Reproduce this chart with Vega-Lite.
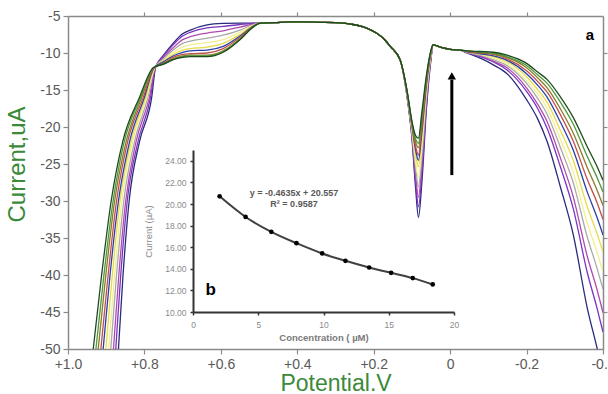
{
"$schema": "https://vega.github.io/schema/vega-lite/v6.json",
"width": 535, "height": 333,
"autosize": {"type": "none"},
"padding": {"left": 68, "top": 16, "right": 5, "bottom": 45},
"background": "white",
"config": {"view": {"stroke": null}, "font": "Liberation Sans"},
"resolve": {"scale": {"x": "independent", "y": "independent"}, "axis": {"x": "independent", "y": "independent"}},
"layer": [
{
"resolve": {"axis": {"x": "independent", "y": "independent"}},
"layer": [
{
"data": {"values": [
{"k":0,"v":0.876,"i":-56},{"k":0,"v":0.868,"i":-50},{"k":0,"v":0.856,"i":-40},{"k":0,"v":0.840,"i":-30},{"k":0,"v":0.813,"i":-22},{"k":0,"v":0.781,"i":-16},{"k":0,"v":0.771,"i":-12},
{"k":0,"v":0.75,"i":-10.3},{"k":0,"v":0.725,"i":-8.7},{"k":0,"v":0.70,"i":-7.4},{"k":0,"v":0.68,"i":-6.9},{"k":0,"v":0.636,"i":-6.2},{"k":0,"v":0.594,"i":-6.0},{"k":0,"v":0.55,"i":-5.95},{"k":0,"v":0.516,"i":-5.95},
{"k":0,"v":0.497,"i":-5.95},{"k":0,"v":0.46,"i":-5.9},{"k":0,"v":0.42,"i":-5.8},{"k":0,"v":0.38,"i":-5.8},{"k":0,"v":0.34,"i":-5.85},{"k":0,"v":0.30,"i":-5.9},{"k":0,"v":0.26,"i":-6.1},{"k":0,"v":0.22,"i":-6.6},{"k":0,"v":0.19,"i":-7.4},{"k":0,"v":0.175,"i":-8.0},{"k":0,"v":0.157,"i":-9.1},{"k":0,"v":0.131,"i":-10.9},
{"k":0,"v":0.113,"i":-15.8},{"k":0,"v":0.100,"i":-21.5},{"k":0,"v":0.090,"i":-28.5},{"k":0,"v":0.083,"i":-32.2},{"k":0,"v":0.074,"i":-27.5},{"k":0,"v":0.062,"i":-17.5},{"k":0,"v":0.050,"i":-10.8},{"k":0,"v":0.045,"i":-8.9},
{"k":0,"v":0.026,"i":-9.2},{"k":0,"v":0.0,"i":-9.5},{"k":0,"v":-0.026,"i":-9.6},
{"k":0,"v":-0.044,"i":-10.0},{"k":0,"v":-0.079,"i":-10.7},{"k":0,"v":-0.113,"i":-11.6},{"k":0,"v":-0.149,"i":-12.8},{"k":0,"v":-0.2,"i":-16.3},{"k":0,"v":-0.23,"i":-19.0},{"k":0,"v":-0.254,"i":-22.0},{"k":0,"v":-0.288,"i":-28.0},{"k":0,"v":-0.322,"i":-34.5},{"k":0,"v":-0.359,"i":-44.5},{"k":0,"v":-0.385,"i":-50.0},{"k":0,"v":-0.4,"i":-53.5},

{"k":1,"v":0.883,"i":-56},{"k":1,"v":0.875,"i":-50},{"k":1,"v":0.862,"i":-40},{"k":1,"v":0.845,"i":-30},{"k":1,"v":0.817,"i":-22},{"k":1,"v":0.784,"i":-16},{"k":1,"v":0.772,"i":-12},
{"k":1,"v":0.75,"i":-10.4},{"k":1,"v":0.725,"i":-8.9},{"k":1,"v":0.70,"i":-7.7},{"k":1,"v":0.68,"i":-7.2},{"k":1,"v":0.636,"i":-6.6},{"k":1,"v":0.594,"i":-6.4},{"k":1,"v":0.55,"i":-6.15},{"k":1,"v":0.516,"i":-6.0},
{"k":1,"v":0.497,"i":-5.95},{"k":1,"v":0.46,"i":-5.9},{"k":1,"v":0.42,"i":-5.8},{"k":1,"v":0.38,"i":-5.8},{"k":1,"v":0.34,"i":-5.85},{"k":1,"v":0.30,"i":-5.9},{"k":1,"v":0.26,"i":-6.1},{"k":1,"v":0.22,"i":-6.6},{"k":1,"v":0.19,"i":-7.4},{"k":1,"v":0.175,"i":-8.0},{"k":1,"v":0.157,"i":-9.1},{"k":1,"v":0.131,"i":-10.9},
{"k":1,"v":0.113,"i":-15.7},{"k":1,"v":0.100,"i":-21.2},{"k":1,"v":0.090,"i":-27.6},{"k":1,"v":0.083,"i":-30.8},{"k":1,"v":0.074,"i":-26.3},{"k":1,"v":0.062,"i":-16.9},{"k":1,"v":0.050,"i":-10.6},{"k":1,"v":0.045,"i":-8.9},
{"k":1,"v":0.026,"i":-9.2},{"k":1,"v":0.0,"i":-9.5},{"k":1,"v":-0.026,"i":-9.6},
{"k":1,"v":-0.044,"i":-9.9},{"k":1,"v":-0.079,"i":-10.5},{"k":1,"v":-0.113,"i":-11.2},{"k":1,"v":-0.149,"i":-12.3},{"k":1,"v":-0.2,"i":-15.2},{"k":1,"v":-0.23,"i":-17.6},{"k":1,"v":-0.254,"i":-20.2},{"k":1,"v":-0.288,"i":-25.3},{"k":1,"v":-0.322,"i":-31.0},{"k":1,"v":-0.359,"i":-39.7},{"k":1,"v":-0.385,"i":-44.6},{"k":1,"v":-0.4,"i":-47.7},

{"k":2,"v":0.890,"i":-56},{"k":2,"v":0.881,"i":-50},{"k":2,"v":0.867,"i":-40},{"k":2,"v":0.849,"i":-30},{"k":2,"v":0.822,"i":-22},{"k":2,"v":0.787,"i":-16},{"k":2,"v":0.772,"i":-12},
{"k":2,"v":0.75,"i":-10.6},{"k":2,"v":0.725,"i":-9.3},{"k":2,"v":0.70,"i":-8.2},{"k":2,"v":0.68,"i":-7.8},{"k":2,"v":0.636,"i":-7.3},{"k":2,"v":0.594,"i":-7.0},{"k":2,"v":0.55,"i":-6.5},{"k":2,"v":0.516,"i":-6.1},
{"k":2,"v":0.497,"i":-5.95},{"k":2,"v":0.46,"i":-5.9},{"k":2,"v":0.42,"i":-5.8},{"k":2,"v":0.38,"i":-5.8},{"k":2,"v":0.34,"i":-5.85},{"k":2,"v":0.30,"i":-5.9},{"k":2,"v":0.26,"i":-6.1},{"k":2,"v":0.22,"i":-6.6},{"k":2,"v":0.19,"i":-7.4},{"k":2,"v":0.175,"i":-8.0},{"k":2,"v":0.157,"i":-9.1},{"k":2,"v":0.131,"i":-10.9},
{"k":2,"v":0.113,"i":-15.6},{"k":2,"v":0.100,"i":-20.9},{"k":2,"v":0.090,"i":-26.7},{"k":2,"v":0.083,"i":-29.5},{"k":2,"v":0.074,"i":-25.1},{"k":2,"v":0.062,"i":-16.4},{"k":2,"v":0.050,"i":-10.5},{"k":2,"v":0.045,"i":-8.9},
{"k":2,"v":0.026,"i":-9.2},{"k":2,"v":0.0,"i":-9.5},{"k":2,"v":-0.026,"i":-9.6},
{"k":2,"v":-0.044,"i":-9.9},{"k":2,"v":-0.079,"i":-10.4},{"k":2,"v":-0.113,"i":-11.1},{"k":2,"v":-0.149,"i":-12.0},{"k":2,"v":-0.2,"i":-14.7},{"k":2,"v":-0.23,"i":-17.0},{"k":2,"v":-0.254,"i":-19.3},{"k":2,"v":-0.288,"i":-24.1},{"k":2,"v":-0.322,"i":-29.4},{"k":2,"v":-0.359,"i":-37.5},{"k":2,"v":-0.385,"i":-42.1},{"k":2,"v":-0.4,"i":-45.1},

{"k":3,"v":0.898,"i":-56},{"k":3,"v":0.888,"i":-50},{"k":3,"v":0.873,"i":-40},{"k":3,"v":0.854,"i":-30},{"k":3,"v":0.826,"i":-22},{"k":3,"v":0.791,"i":-16},{"k":3,"v":0.773,"i":-12},
{"k":3,"v":0.75,"i":-10.8},{"k":3,"v":0.725,"i":-9.6},{"k":3,"v":0.70,"i":-8.7},{"k":3,"v":0.68,"i":-8.4},{"k":3,"v":0.636,"i":-8.0},{"k":3,"v":0.594,"i":-7.6},{"k":3,"v":0.55,"i":-6.9},{"k":3,"v":0.516,"i":-6.2},
{"k":3,"v":0.497,"i":-5.95},{"k":3,"v":0.46,"i":-5.9},{"k":3,"v":0.42,"i":-5.8},{"k":3,"v":0.38,"i":-5.8},{"k":3,"v":0.34,"i":-5.85},{"k":3,"v":0.30,"i":-5.9},{"k":3,"v":0.26,"i":-6.1},{"k":3,"v":0.22,"i":-6.6},{"k":3,"v":0.19,"i":-7.4},{"k":3,"v":0.175,"i":-8.0},{"k":3,"v":0.157,"i":-9.1},{"k":3,"v":0.131,"i":-10.9},
{"k":3,"v":0.113,"i":-15.5},{"k":3,"v":0.100,"i":-20.6},{"k":3,"v":0.090,"i":-25.7},{"k":3,"v":0.083,"i":-28.1},{"k":3,"v":0.074,"i":-23.9},{"k":3,"v":0.062,"i":-15.8},{"k":3,"v":0.050,"i":-10.3},{"k":3,"v":0.045,"i":-8.9},
{"k":3,"v":0.026,"i":-9.2},{"k":3,"v":0.0,"i":-9.5},{"k":3,"v":-0.026,"i":-9.6},
{"k":3,"v":-0.044,"i":-9.9},{"k":3,"v":-0.079,"i":-10.3},{"k":3,"v":-0.113,"i":-10.9},{"k":3,"v":-0.149,"i":-11.7},{"k":3,"v":-0.2,"i":-14.1},{"k":3,"v":-0.23,"i":-16.2},{"k":3,"v":-0.254,"i":-18.3},{"k":3,"v":-0.288,"i":-22.7},{"k":3,"v":-0.322,"i":-27.5},{"k":3,"v":-0.359,"i":-34.9},{"k":3,"v":-0.385,"i":-39.2},{"k":3,"v":-0.4,"i":-41.9},

{"k":4,"v":0.905,"i":-56},{"k":4,"v":0.894,"i":-50},{"k":4,"v":0.878,"i":-40},{"k":4,"v":0.859,"i":-30},{"k":4,"v":0.831,"i":-22},{"k":4,"v":0.794,"i":-16},{"k":4,"v":0.773,"i":-12},
{"k":4,"v":0.75,"i":-11.0},{"k":4,"v":0.725,"i":-9.9},{"k":4,"v":0.70,"i":-9.2},{"k":4,"v":0.68,"i":-8.9},{"k":4,"v":0.636,"i":-8.6},{"k":4,"v":0.594,"i":-8.2},{"k":4,"v":0.55,"i":-7.2},{"k":4,"v":0.516,"i":-6.25},
{"k":4,"v":0.497,"i":-5.95},{"k":4,"v":0.46,"i":-5.9},{"k":4,"v":0.42,"i":-5.8},{"k":4,"v":0.38,"i":-5.8},{"k":4,"v":0.34,"i":-5.85},{"k":4,"v":0.30,"i":-5.9},{"k":4,"v":0.26,"i":-6.1},{"k":4,"v":0.22,"i":-6.6},{"k":4,"v":0.19,"i":-7.4},{"k":4,"v":0.175,"i":-8.0},{"k":4,"v":0.157,"i":-9.1},{"k":4,"v":0.131,"i":-10.9},
{"k":4,"v":0.113,"i":-15.4},{"k":4,"v":0.100,"i":-20.4},{"k":4,"v":0.090,"i":-24.9},{"k":4,"v":0.083,"i":-26.8},{"k":4,"v":0.074,"i":-22.8},{"k":4,"v":0.062,"i":-15.3},{"k":4,"v":0.050,"i":-10.2},{"k":4,"v":0.045,"i":-8.9},
{"k":4,"v":0.026,"i":-9.2},{"k":4,"v":0.0,"i":-9.5},{"k":4,"v":-0.026,"i":-9.6},
{"k":4,"v":-0.044,"i":-9.8},{"k":4,"v":-0.079,"i":-10.2},{"k":4,"v":-0.113,"i":-10.7},{"k":4,"v":-0.149,"i":-11.5},{"k":4,"v":-0.2,"i":-13.7},{"k":4,"v":-0.23,"i":-15.6},{"k":4,"v":-0.254,"i":-17.5},{"k":4,"v":-0.288,"i":-21.6},{"k":4,"v":-0.322,"i":-26.1},{"k":4,"v":-0.359,"i":-33.0},{"k":4,"v":-0.385,"i":-37.0},{"k":4,"v":-0.4,"i":-39.6},

{"k":5,"v":0.912,"i":-56},{"k":5,"v":0.901,"i":-50},{"k":5,"v":0.884,"i":-40},{"k":5,"v":0.864,"i":-30},{"k":5,"v":0.835,"i":-22},{"k":5,"v":0.797,"i":-16},{"k":5,"v":0.774,"i":-12},
{"k":5,"v":0.75,"i":-11.1},{"k":5,"v":0.725,"i":-10.2},{"k":5,"v":0.70,"i":-9.6},{"k":5,"v":0.68,"i":-9.4},{"k":5,"v":0.636,"i":-9.2},{"k":5,"v":0.594,"i":-8.7},{"k":5,"v":0.55,"i":-7.5},{"k":5,"v":0.516,"i":-6.35},
{"k":5,"v":0.497,"i":-5.95},{"k":5,"v":0.46,"i":-5.9},{"k":5,"v":0.42,"i":-5.8},{"k":5,"v":0.38,"i":-5.8},{"k":5,"v":0.34,"i":-5.85},{"k":5,"v":0.30,"i":-5.9},{"k":5,"v":0.26,"i":-6.1},{"k":5,"v":0.22,"i":-6.6},{"k":5,"v":0.19,"i":-7.4},{"k":5,"v":0.175,"i":-8.0},{"k":5,"v":0.157,"i":-9.1},{"k":5,"v":0.131,"i":-10.9},
{"k":5,"v":0.113,"i":-15.3},{"k":5,"v":0.100,"i":-20.0},{"k":5,"v":0.090,"i":-23.8},{"k":5,"v":0.083,"i":-25.4},{"k":5,"v":0.074,"i":-21.4},{"k":5,"v":0.062,"i":-14.6},{"k":5,"v":0.050,"i":-10.0},{"k":5,"v":0.045,"i":-8.9},
{"k":5,"v":0.026,"i":-9.2},{"k":5,"v":0.0,"i":-9.5},{"k":5,"v":-0.026,"i":-9.6},
{"k":5,"v":-0.044,"i":-9.8},{"k":5,"v":-0.079,"i":-10.1},{"k":5,"v":-0.113,"i":-10.5},{"k":5,"v":-0.149,"i":-11.2},{"k":5,"v":-0.2,"i":-13.2},{"k":5,"v":-0.23,"i":-15.0},{"k":5,"v":-0.254,"i":-16.7},{"k":5,"v":-0.288,"i":-20.4},{"k":5,"v":-0.322,"i":-24.5},{"k":5,"v":-0.359,"i":-30.8},{"k":5,"v":-0.385,"i":-34.5},{"k":5,"v":-0.4,"i":-36.9},

{"k":6,"v":0.919,"i":-56},{"k":6,"v":0.908,"i":-50},{"k":6,"v":0.890,"i":-40},{"k":6,"v":0.868,"i":-30},{"k":6,"v":0.839,"i":-22},{"k":6,"v":0.800,"i":-16},{"k":6,"v":0.775,"i":-12},
{"k":6,"v":0.75,"i":-11.2},{"k":6,"v":0.725,"i":-10.4},{"k":6,"v":0.70,"i":-9.9},{"k":6,"v":0.68,"i":-9.7},{"k":6,"v":0.636,"i":-9.6},{"k":6,"v":0.594,"i":-9.1},{"k":6,"v":0.55,"i":-7.7},{"k":6,"v":0.516,"i":-6.4},
{"k":6,"v":0.497,"i":-5.95},{"k":6,"v":0.46,"i":-5.9},{"k":6,"v":0.42,"i":-5.8},{"k":6,"v":0.38,"i":-5.8},{"k":6,"v":0.34,"i":-5.85},{"k":6,"v":0.30,"i":-5.9},{"k":6,"v":0.26,"i":-6.1},{"k":6,"v":0.22,"i":-6.6},{"k":6,"v":0.19,"i":-7.4},{"k":6,"v":0.175,"i":-8.0},{"k":6,"v":0.157,"i":-9.1},{"k":6,"v":0.131,"i":-10.9},
{"k":6,"v":0.113,"i":-15.2},{"k":6,"v":0.100,"i":-19.8},{"k":6,"v":0.090,"i":-23.2},{"k":6,"v":0.083,"i":-24.5},{"k":6,"v":0.074,"i":-20.7},{"k":6,"v":0.062,"i":-14.3},{"k":6,"v":0.050,"i":-9.9},{"k":6,"v":0.045,"i":-8.9},
{"k":6,"v":0.026,"i":-9.2},{"k":6,"v":0.0,"i":-9.5},{"k":6,"v":-0.026,"i":-9.6},
{"k":6,"v":-0.044,"i":-9.8},{"k":6,"v":-0.079,"i":-10.1},{"k":6,"v":-0.113,"i":-10.4},{"k":6,"v":-0.149,"i":-11.0},{"k":6,"v":-0.2,"i":-12.8},{"k":6,"v":-0.23,"i":-14.4},{"k":6,"v":-0.254,"i":-16.0},{"k":6,"v":-0.288,"i":-19.3},{"k":6,"v":-0.322,"i":-23.1},{"k":6,"v":-0.359,"i":-28.8},{"k":6,"v":-0.385,"i":-32.3},{"k":6,"v":-0.4,"i":-34.6},

{"k":7,"v":0.926,"i":-56},{"k":7,"v":0.914,"i":-50},{"k":7,"v":0.895,"i":-40},{"k":7,"v":0.873,"i":-30},{"k":7,"v":0.844,"i":-22},{"k":7,"v":0.803,"i":-16},{"k":7,"v":0.775,"i":-12},
{"k":7,"v":0.75,"i":-11.4},{"k":7,"v":0.725,"i":-10.6},{"k":7,"v":0.70,"i":-10.2},{"k":7,"v":0.68,"i":-10.1},{"k":7,"v":0.636,"i":-10.0},{"k":7,"v":0.594,"i":-9.4},{"k":7,"v":0.55,"i":-7.9},{"k":7,"v":0.516,"i":-6.45},
{"k":7,"v":0.497,"i":-5.95},{"k":7,"v":0.46,"i":-5.9},{"k":7,"v":0.42,"i":-5.8},{"k":7,"v":0.38,"i":-5.8},{"k":7,"v":0.34,"i":-5.85},{"k":7,"v":0.30,"i":-5.9},{"k":7,"v":0.26,"i":-6.1},{"k":7,"v":0.22,"i":-6.6},{"k":7,"v":0.19,"i":-7.4},{"k":7,"v":0.175,"i":-8.0},{"k":7,"v":0.157,"i":-9.1},{"k":7,"v":0.131,"i":-10.9},
{"k":7,"v":0.113,"i":-15.2},{"k":7,"v":0.100,"i":-19.7},{"k":7,"v":0.090,"i":-22.7},{"k":7,"v":0.083,"i":-23.8},{"k":7,"v":0.074,"i":-20.0},{"k":7,"v":0.062,"i":-13.9},{"k":7,"v":0.050,"i":-9.9},{"k":7,"v":0.045,"i":-8.9},
{"k":7,"v":0.026,"i":-9.2},{"k":7,"v":0.0,"i":-9.5},{"k":7,"v":-0.026,"i":-9.6},
{"k":7,"v":-0.044,"i":-9.8},{"k":7,"v":-0.079,"i":-10.0},{"k":7,"v":-0.113,"i":-10.2},{"k":7,"v":-0.149,"i":-10.8},{"k":7,"v":-0.2,"i":-12.4},{"k":7,"v":-0.23,"i":-13.9},{"k":7,"v":-0.254,"i":-15.3},{"k":7,"v":-0.288,"i":-18.3},{"k":7,"v":-0.322,"i":-21.9},{"k":7,"v":-0.359,"i":-27.1},{"k":7,"v":-0.385,"i":-30.3},{"k":7,"v":-0.4,"i":-32.5},

{"k":8,"v":0.934,"i":-56},{"k":8,"v":0.921,"i":-50},{"k":8,"v":0.901,"i":-40},{"k":8,"v":0.878,"i":-30},{"k":8,"v":0.848,"i":-22},{"k":8,"v":0.807,"i":-16},{"k":8,"v":0.776,"i":-12},
{"k":8,"v":0.75,"i":-11.4},{"k":8,"v":0.725,"i":-10.8},{"k":8,"v":0.70,"i":-10.4},{"k":8,"v":0.68,"i":-10.3},{"k":8,"v":0.636,"i":-10.3},{"k":8,"v":0.594,"i":-9.7},{"k":8,"v":0.55,"i":-8.1},{"k":8,"v":0.516,"i":-6.5},
{"k":8,"v":0.497,"i":-5.95},{"k":8,"v":0.46,"i":-5.9},{"k":8,"v":0.42,"i":-5.8},{"k":8,"v":0.38,"i":-5.8},{"k":8,"v":0.34,"i":-5.85},{"k":8,"v":0.30,"i":-5.9},{"k":8,"v":0.26,"i":-6.1},{"k":8,"v":0.22,"i":-6.6},{"k":8,"v":0.19,"i":-7.4},{"k":8,"v":0.175,"i":-8.0},{"k":8,"v":0.157,"i":-9.1},{"k":8,"v":0.131,"i":-10.9},
{"k":8,"v":0.113,"i":-15.1},{"k":8,"v":0.100,"i":-19.5},{"k":8,"v":0.090,"i":-22.1},{"k":8,"v":0.083,"i":-22.8},{"k":8,"v":0.074,"i":-19.1},{"k":8,"v":0.062,"i":-13.5},{"k":8,"v":0.050,"i":-9.7},{"k":8,"v":0.045,"i":-8.9},
{"k":8,"v":0.026,"i":-9.2},{"k":8,"v":0.0,"i":-9.5},{"k":8,"v":-0.026,"i":-9.6},
{"k":8,"v":-0.044,"i":-9.7},{"k":8,"v":-0.079,"i":-9.9},{"k":8,"v":-0.113,"i":-10.1},{"k":8,"v":-0.149,"i":-10.6},{"k":8,"v":-0.2,"i":-12.0},{"k":8,"v":-0.23,"i":-13.4},{"k":8,"v":-0.254,"i":-14.7},{"k":8,"v":-0.288,"i":-17.5},{"k":8,"v":-0.322,"i":-20.8},{"k":8,"v":-0.359,"i":-25.5},{"k":8,"v":-0.385,"i":-28.6},{"k":8,"v":-0.4,"i":-30.6},

{"k":9,"v":0.941,"i":-56},{"k":9,"v":0.927,"i":-50},{"k":9,"v":0.906,"i":-40},{"k":9,"v":0.882,"i":-30},{"k":9,"v":0.853,"i":-22},{"k":9,"v":0.810,"i":-16},{"k":9,"v":0.776,"i":-12},
{"k":9,"v":0.75,"i":-11.5},{"k":9,"v":0.725,"i":-10.9},{"k":9,"v":0.70,"i":-10.5},{"k":9,"v":0.68,"i":-10.4},{"k":9,"v":0.636,"i":-10.4},{"k":9,"v":0.594,"i":-9.8},{"k":9,"v":0.55,"i":-8.15},{"k":9,"v":0.516,"i":-6.5},
{"k":9,"v":0.497,"i":-5.95},{"k":9,"v":0.46,"i":-5.9},{"k":9,"v":0.42,"i":-5.8},{"k":9,"v":0.38,"i":-5.8},{"k":9,"v":0.34,"i":-5.85},{"k":9,"v":0.30,"i":-5.9},{"k":9,"v":0.26,"i":-6.1},{"k":9,"v":0.22,"i":-6.6},{"k":9,"v":0.19,"i":-7.4},{"k":9,"v":0.175,"i":-8.0},{"k":9,"v":0.157,"i":-9.1},{"k":9,"v":0.131,"i":-10.9},
{"k":9,"v":0.113,"i":-15.1},{"k":9,"v":0.100,"i":-19.4},{"k":9,"v":0.090,"i":-21.7},{"k":9,"v":0.083,"i":-22.2},{"k":9,"v":0.074,"i":-18.7},{"k":9,"v":0.062,"i":-13.3},{"k":9,"v":0.050,"i":-9.7},{"k":9,"v":0.045,"i":-8.9},
{"k":9,"v":0.026,"i":-9.2},{"k":9,"v":0.0,"i":-9.5},{"k":9,"v":-0.026,"i":-9.6},
{"k":9,"v":-0.044,"i":-9.7},{"k":9,"v":-0.079,"i":-9.9},{"k":9,"v":-0.113,"i":-10.0},{"k":9,"v":-0.149,"i":-10.5},{"k":9,"v":-0.2,"i":-11.7},{"k":9,"v":-0.23,"i":-13.0},{"k":9,"v":-0.254,"i":-14.1},{"k":9,"v":-0.288,"i":-16.6},{"k":9,"v":-0.322,"i":-19.6},{"k":9,"v":-0.359,"i":-24.0},{"k":9,"v":-0.385,"i":-26.9},{"k":9,"v":-0.4,"i":-28.8},

{"k":10,"v":0.948,"i":-56},{"k":10,"v":0.934,"i":-50},{"k":10,"v":0.912,"i":-40},{"k":10,"v":0.887,"i":-30},{"k":10,"v":0.857,"i":-22},{"k":10,"v":0.813,"i":-16},{"k":10,"v":0.777,"i":-12},
{"k":10,"v":0.75,"i":-11.5},{"k":10,"v":0.725,"i":-10.9},{"k":10,"v":0.70,"i":-10.6},{"k":10,"v":0.68,"i":-10.5},{"k":10,"v":0.636,"i":-10.5},{"k":10,"v":0.594,"i":-9.9},{"k":10,"v":0.55,"i":-8.2},{"k":10,"v":0.516,"i":-6.5},
{"k":10,"v":0.497,"i":-5.95},{"k":10,"v":0.46,"i":-5.9},{"k":10,"v":0.42,"i":-5.8},{"k":10,"v":0.38,"i":-5.8},{"k":10,"v":0.34,"i":-5.85},{"k":10,"v":0.30,"i":-5.9},{"k":10,"v":0.26,"i":-6.1},{"k":10,"v":0.22,"i":-6.6},{"k":10,"v":0.19,"i":-7.4},{"k":10,"v":0.175,"i":-8.0},{"k":10,"v":0.157,"i":-9.1},{"k":10,"v":0.131,"i":-10.9},
{"k":10,"v":0.113,"i":-15.0},{"k":10,"v":0.100,"i":-19.2},{"k":10,"v":0.090,"i":-21.2},{"k":10,"v":0.083,"i":-21.5},{"k":10,"v":0.074,"i":-18.0},{"k":10,"v":0.062,"i":-13.0},{"k":10,"v":0.050,"i":-9.6},{"k":10,"v":0.045,"i":-8.9},
{"k":10,"v":0.026,"i":-9.2},{"k":10,"v":0.0,"i":-9.5},{"k":10,"v":-0.026,"i":-9.6},
{"k":10,"v":-0.044,"i":-9.7},{"k":10,"v":-0.079,"i":-9.8},{"k":10,"v":-0.113,"i":-9.9},{"k":10,"v":-0.149,"i":-10.3},{"k":10,"v":-0.2,"i":-11.4},{"k":10,"v":-0.23,"i":-12.6},{"k":10,"v":-0.254,"i":-13.6},{"k":10,"v":-0.288,"i":-15.9},{"k":10,"v":-0.322,"i":-18.7},{"k":10,"v":-0.359,"i":-22.7},{"k":10,"v":-0.385,"i":-25.4},{"k":10,"v":-0.4,"i":-27.2}
]},
"mark": {"type": "line", "clip": true, "strokeWidth": 1.3, "interpolate": "monotone"},
"encoding": {
"x": {"field": "v", "type": "quantitative", "scale": {"domain": [-0.4, 1.0], "reverse": true, "nice": false, "zero": false},
 "axis": {"orient": "bottom", "values": [1, 0.8, 0.6, 0.4, 0.2, 0, -0.2, -0.4], "labelExpr": "datum.value > 0.001 ? '+' + format(datum.value, '.1f') : (datum.value < -0.001 ? '-' + format(-datum.value, '.1f') : '0')", "labelFontSize": 14, "labelColor": "#595959", "labelFont": "Liberation Sans", "labelPadding": 3, "labelFlush": false, "labelOverlap": false, "tickSize": 5, "tickColor": "#8a8a8a", "tickWidth": 1.2, "domainColor": "#8a8a8a", "domainWidth": 1.5, "grid": false, "title": "Potential.V", "titleFont": "Liberation Sans", "titleFontSize": 23, "titleFontWeight": "normal", "titleColor": "#3a8a3a", "titleY": 41, "titleBaseline": "alphabetic"}},
"y": {"field": "i", "type": "quantitative", "scale": {"domain": [-50, -5], "nice": false, "zero": false},
 "axis": {"orient": "left", "values": [-5, -10, -15, -20, -25, -30, -35, -40, -45, -50], "labelExpr": "'-' + format(-datum.value, 'd')", "labelFontSize": 14, "labelColor": "#595959", "labelFont": "Liberation Sans", "labelPadding": 3, "labelFlush": false, "labelOverlap": false, "tickSize": 5, "tickColor": "#8a8a8a", "tickWidth": 1.2, "domainColor": "#8a8a8a", "domainWidth": 1.5, "grid": false, "title": "Current,uA", "titleFont": "Liberation Sans", "titleFontSize": 24, "titleFontWeight": "normal", "titleColor": "#3a8a3a", "titleX": -44, "titleY": 148, "titleAngle": 270, "titleAlign": "center", "titleBaseline": "alphabetic"}},
"color": {"field": "k", "type": "nominal", "scale": {"domain": [0,1,2,3,4,5,6,7,8,9,10], "range": ["#2a2a7e", "#7a35c0", "#b04ab0", "#a9a9a9", "#f3ef90", "#e6dc4a", "#2b3fa8", "#c0504d", "#8a7a2a", "#4a9a3a", "#1f4a1f"]}, "legend": null}
}
},
{
"data": {"values": [{}]},
"mark": {"type": "rule", "color": "#000000", "strokeWidth": 3},
"encoding": {
"x": {"datum": -0.0044, "type": "quantitative", "axis": {"orient": "top", "values": [0.8, 0.6, 0.4, 0.2, 0, -0.2], "labels": false, "title": null, "tickSize": 4, "tickColor": "#8a8a8a", "tickWidth": 1.2, "domainColor": "#8a8a8a", "domainWidth": 1.5, "grid": false}},
"y": {"datum": -26.5, "type": "quantitative", "axis": {"orient": "right", "values": [-10, -15, -20, -25, -30, -35, -40, -45], "labels": false, "title": null, "tickSize": 4, "tickColor": "#8a8a8a", "tickWidth": 1.2, "domainColor": "#8a8a8a", "domainWidth": 1.5, "grid": false}},
"y2": {"datum": -13.6}
}
},
{
"data": {"values": [{}]},
"mark": {"type": "point", "shape": "triangle-up", "filled": true, "color": "#000000", "opacity": 1, "size": 70},
"encoding": {
"x": {"datum": -0.0044, "type": "quantitative", "axis": null},
"y": {"datum": -13.1, "type": "quantitative", "axis": null}
}
},
{
"data": {"values": [{}]},
"mark": {"type": "text", "text": "a", "font": "Liberation Sans", "fontWeight": "bold", "fontSize": 15, "color": "#000000", "align": "center", "baseline": "middle"},
"encoding": {
"x": {"datum": -0.366, "type": "quantitative", "axis": null},
"y": {"datum": -7.6, "type": "quantitative", "axis": null}
}
}
]
},
{
"data": {"name": "inset", "values": [
{"conc": 2.04, "cur": 20.71}, {"conc": 4.03, "cur": 18.80}, {"conc": 6.0, "cur": 17.42}, {"conc": 7.93, "cur": 16.37}, {"conc": 9.9, "cur": 15.42},
{"conc": 11.68, "cur": 14.74}, {"conc": 13.5, "cur": 14.12}, {"conc": 15.18, "cur": 13.63}, {"conc": 16.84, "cur": 13.14}, {"conc": 18.37, "cur": 12.55}
]},
"mark": {"type": "line", "color": "#404040", "strokeWidth": 2, "interpolate": "monotone"},
"encoding": {
"x": {"field": "conc", "type": "quantitative", "scale": {"domain": [0, 20], "range": [125, 386], "nice": false, "zero": false},
 "axis": {"orient": "bottom", "offset": -37, "values": [0, 5, 10, 15, 20], "format": "d", "labelFontSize": 8.5, "labelColor": "#8a8a8a", "labelFont": "Liberation Sans", "labelPadding": 5, "labelFlush": false, "tickSize": 3, "tickColor": "#333333", "tickWidth": 1.5, "domainColor": "#333333", "domainWidth": 2, "grid": false, "title": "Concentration ( µM)", "titleFont": "Liberation Sans", "titleFontSize": 9.5, "titleFontWeight": "bold", "titleColor": "#7a7a7a", "titlePadding": 4}},
"y": {"field": "cur", "type": "quantitative", "scale": {"domain": [10, 25], "range": [296, 134], "nice": false, "zero": false},
 "axis": {"orient": "left", "offset": -125, "values": [10, 12, 14, 16, 18, 20, 22, 24], "format": ".2f", "labelFontSize": 8.5, "labelColor": "#8a8a8a", "labelFont": "Liberation Sans", "labelPadding": 4, "labelFlush": false, "tickSize": 3, "tickColor": "#333333", "tickWidth": 1.5, "domainColor": "#333333", "domainWidth": 2, "grid": false, "title": "Current (µA)", "titleFont": "Liberation Sans", "titleFontSize": 9.5, "titleFontWeight": "normal", "titleColor": "#8a8a8a", "titlePadding": 11}}
}
},
{
"data": {"name": "inset"},
"mark": {"type": "point", "filled": true, "color": "#000000", "opacity": 1, "size": 22},
"encoding": {
"x": {"field": "conc", "type": "quantitative", "scale": {"domain": [0, 20], "range": [125, 386], "nice": false, "zero": false}, "axis": null},
"y": {"field": "cur", "type": "quantitative", "scale": {"domain": [10, 25], "range": [296, 134], "nice": false, "zero": false}, "axis": null}
}
},
{
"data": {"values": [{}]},
"mark": {"type": "text", "text": "y = -0.4635x + 20.557", "font": "Liberation Sans", "fontWeight": "bold", "fontSize": 9, "color": "#595959", "align": "center", "baseline": "middle"},
"encoding": {
"x": {"datum": 7.74, "type": "quantitative", "scale": {"domain": [0, 20], "range": [125, 386], "nice": false, "zero": false}, "axis": null},
"y": {"datum": 21.05, "type": "quantitative", "scale": {"domain": [10, 25], "range": [296, 134], "nice": false, "zero": false}, "axis": null}
}
},
{
"data": {"values": [{}]},
"mark": {"type": "text", "text": "R² = 0.9587", "font": "Liberation Sans", "fontWeight": "bold", "fontSize": 9, "color": "#595959", "align": "center", "baseline": "middle"},
"encoding": {
"x": {"datum": 7.74, "type": "quantitative", "scale": {"domain": [0, 20], "range": [125, 386], "nice": false, "zero": false}, "axis": null},
"y": {"datum": 19.98, "type": "quantitative", "scale": {"domain": [10, 25], "range": [296, 134], "nice": false, "zero": false}, "axis": null}
}
},
{
"data": {"values": [{}]},
"mark": {"type": "text", "text": "b", "font": "Liberation Sans", "fontWeight": "bold", "fontSize": 17, "color": "#000000", "align": "center", "baseline": "middle"},
"encoding": {
"x": {"datum": 1.36, "type": "quantitative", "scale": {"domain": [0, 20], "range": [125, 386], "nice": false, "zero": false}, "axis": null},
"y": {"datum": 12.04, "type": "quantitative", "scale": {"domain": [10, 25], "range": [296, 134], "nice": false, "zero": false}, "axis": null}
}
}
]
}
